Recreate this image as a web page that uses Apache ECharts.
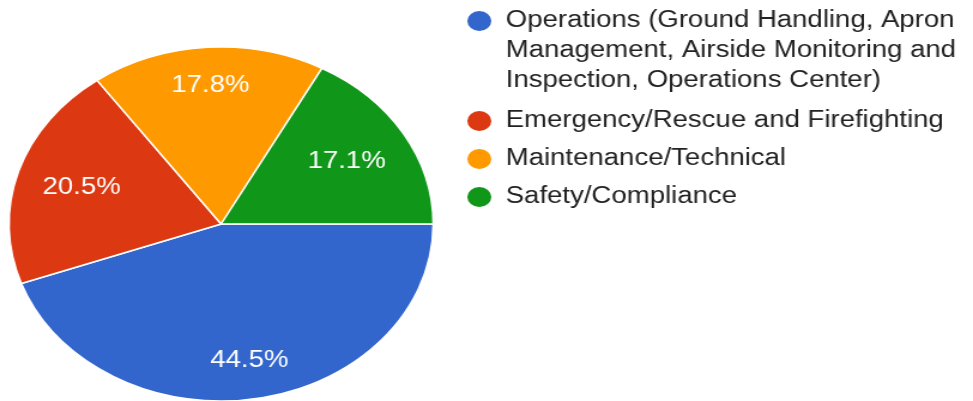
<!DOCTYPE html>
<html>
<head>
<meta charset="utf-8">
<script src="https://cdn.jsdelivr.net/npm/echarts@6/dist/echarts.min.js"></script>
<style>
  html, body { margin: 0; padding: 0; background: #fff; overflow: hidden; }
  /* the reference is stretched sideways, so draw narrower and stretch */
  #main { width: 812px; height: 401px; transform: scaleX(1.1983); transform-origin: 0 0; }
</style>
</head>
<body>
<div id="main"></div>
<script>
const categories = [
  'Operations (Ground Handling, Apron\nManagement, Airside Monitoring and\nInspection, Operations Center)',
  'Emergency/Rescue and Firefighting',
  'Maintenance/Technical',
  'Safety/Compliance'
];
const values = [44.5, 20.5, 17.8, 17.1];
const colors = ['#3366cc', '#dc3912', '#ff9900', '#109618'];

const font = "'Liberation Sans', Arial, sans-serif";
const R = 177;
const center = [184.5, 224];

const chart = echarts.init(document.getElementById('main'));

const sliceData = categories.map((name, i) => ({
  name: name,
  value: values[i],
  itemStyle: { color: colors[i] }
}));

// transparent pies only to place the percent labels at Google-like radii
const labelPie = (k, showIdx) => ({
  type: 'pie',
  silent: true,
  center: center,
  radius: [0, 2 * k * R],
  startAngle: 0,
  legendHoverLink: false,
  itemStyle: { color: 'transparent', borderWidth: 0 },
  labelLine: { show: false },
  emphasis: { disabled: true },
  label: {
    position: 'inside',
    color: '#fff',
    fontSize: 23,
    fontFamily: font,
    formatter: p => p.value.toFixed(1) + '%'
  },
  data: categories.map((name, i) => ({
    name: name,
    value: values[i],
    label: { show: showIdx.indexOf(i) >= 0 }
  }))
});

chart.setOption({
  animation: false,
  legend: {
    orient: 'vertical',
    left: 388,
    top: -54,
    padding: 0,
    icon: 'circle',
    itemWidth: 22,
    itemHeight: 22,
    itemGap: 12,
    selectedMode: false,
    // two blank lines on top so the first line sits next to the dot
    formatter: name => (name === categories[0] ? '\n\n' + name : name),
    textStyle: {
      color: '#222',
      fontSize: 23,
      fontFamily: font,
      lineHeight: 26,
      padding: [0, 0, 0, 6]
    },
    data: [
      { name: categories[0], textStyle: { lineHeight: 30 } },
      categories[1],
      categories[2],
      categories[3]
    ]
  },
  series: [
    {
      type: 'pie',
      center: center,
      radius: R,
      startAngle: 0,
      clockwise: true,
      label: { show: false },
      labelLine: { show: false },
      emphasis: { disabled: true },
      itemStyle: { borderColor: '#fff', borderWidth: 1.5 },
      data: sliceData
    },
    labelPie(0.765, [0, 2]),
    labelPie(0.672, [1, 3])
  ]
});
</script>
</body>
</html>
